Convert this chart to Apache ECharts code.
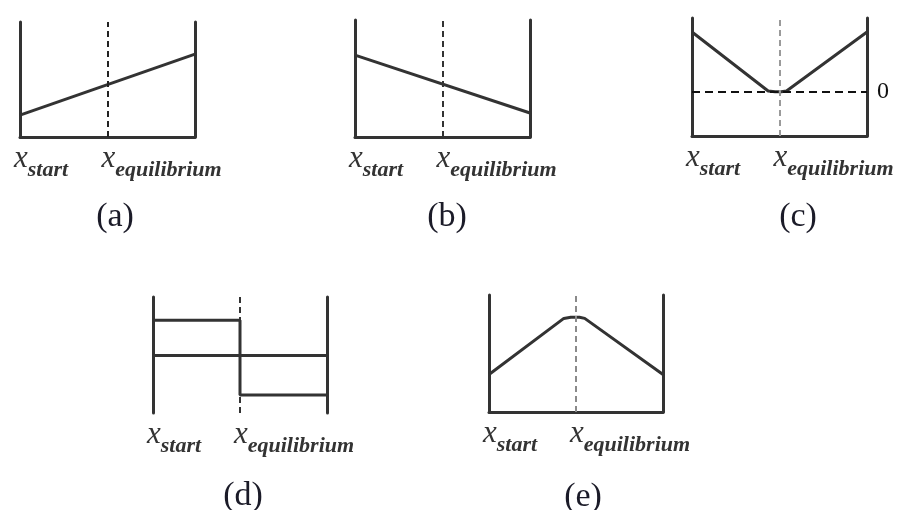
<!DOCTYPE html>
<html>
<head>
<meta charset="utf-8">
<script src="https://cdn.jsdelivr.net/npm/echarts@6/dist/echarts.min.js"></script>
<style>
html,body{margin:0;padding:0;background:#fff;}
#main{width:902px;height:510px;}
</style>
</head>
<body>
<div id="main"></div>
<script>
// 横轴刻度文字（x 的下标）
var tickNames = ['start', 'equilibrium'];
// 各小图的标题
var panelNames = ['(a)', '(b)', '(c)', '(d)', '(e)'];
// 各小图的曲线 [x, y]，x: 0 = start, 1 = equilibrium, 2 = 右端
var lineA = [[0, 0.19], [2, 0.72]];
var lineB = [[0, 0.70], [2, 0.205]];
var lineC = [[0, 0.81], [0.87, 0.01], [0.95, 0], [1.02, 0], [1.08, 0.01], [2, 0.81]];
var stepD = [[0, 0.6], [1, 0.6], [1, -0.69], [2, -0.69]];
var lineE = [[0, 0.32], [0.86, 0.80], [0.94, 0.81], [1.04, 0.81], [1.1, 0.80], [2, 0.32]];
// 纵轴范围
var yRanges = [[0, 1], [0, 1], [-0.6, 1], [-1, 1], [0, 1]];

var grids = [
    {left: 20, top: 22, width: 175, height: 115},
    {left: 355, top: 20, width: 175, height: 117},
    {left: 692, top: 18, width: 175, height: 118},
    {left: 153, top: 297, width: 174, height: 116},
    {left: 489, top: 295, width: 174, height: 117}
];
var titlePos = [[110, 195], [442, 195], [793, 195], [238, 474], [578, 475]];

var ink = '#333';
var xAxes = [], yAxes = [], series = [], titles = [];

grids.forEach(function (g, i) {
    xAxes.push({
        gridIndex: i, type: 'value', min: 0, max: 2, interval: 1,
        axisLine: {show: i != 3, onZero: false, lineStyle: {color: ink, width: 3}},
        axisTick: {show: false},
        splitLine: {show: false},
        axisLabel: {
            show: true, align: 'left', margin: 6, showMaxLabel: false,
            padding: [0, 0, 0, -6],
            formatter: function (v) {
                if (v > 1) return '';
                return '{x|x}{s|' + tickNames[v] + '}';
            },
            rich: {
                x: {fontFamily: 'Liberation Serif', fontStyle: 'italic', fontSize: 31, color: ink, verticalAlign: 'top', lineHeight: 34},
                s: {fontFamily: 'Liberation Serif', fontStyle: 'italic', fontWeight: 'bold', fontSize: 22, color: ink, padding: [16, 0, 0, 0], lineHeight: 38}
            }
        }
    });
    // 左右两条竖线
    ['left', 'right'].forEach(function (p) {
        yAxes.push({
            gridIndex: i, type: 'value', position: p,
            min: yRanges[i][0], max: yRanges[i][1],
            axisLine: {show: true, onZero: false, lineStyle: {color: ink, width: 3}},
            axisTick: {show: false}, axisLabel: {show: false}, splitLine: {show: false}
        });
    });
    titles.push({
        text: panelNames[i], left: titlePos[i][0], top: titlePos[i][1], textAlign: 'center',
        textStyle: {fontFamily: 'Liberation Serif', fontSize: 34, fontWeight: 'normal', color: '#1b1b28'}
    });
});

var datas = [lineA, lineB, lineC, stepD, lineE];
var dashColors = ['#222', '#333', '#9a9a9a', '#333', '#8a8a8a'];
datas.forEach(function (d, i) {
    var marks = [{xAxis: 1, lineStyle: {type: [6, 4], color: dashColors[i], width: 2}}];
    if (i == 2) {
        marks.push({yAxis: 0, lineStyle: {type: [8, 5], color: '#111', width: 2},
            label: {show: true, position: 'end', formatter: '0', distance: 10,
                fontFamily: 'Liberation Serif', fontSize: 24, color: '#111'}});
    }
    if (i == 3) {
        marks.push({yAxis: 0, lineStyle: {type: 'solid', color: ink, width: 3}});
    }
    series.push({
        type: 'line', xAxisIndex: i, yAxisIndex: i * 2, data: d,
        symbol: 'none', z: 3,
        lineStyle: {color: ink, width: 3},
        markLine: {
            silent: true, symbol: 'none', animation: false,
            label: {show: false},
            data: marks
        }
    });
});

var myChart = echarts.init(document.getElementById('main'));
myChart.setOption({
    animation: false,
    backgroundColor: '#fff',
    title: titles,
    grid: grids,
    xAxis: xAxes,
    yAxis: yAxes,
    series: series
});
</script>
</body>
</html>
